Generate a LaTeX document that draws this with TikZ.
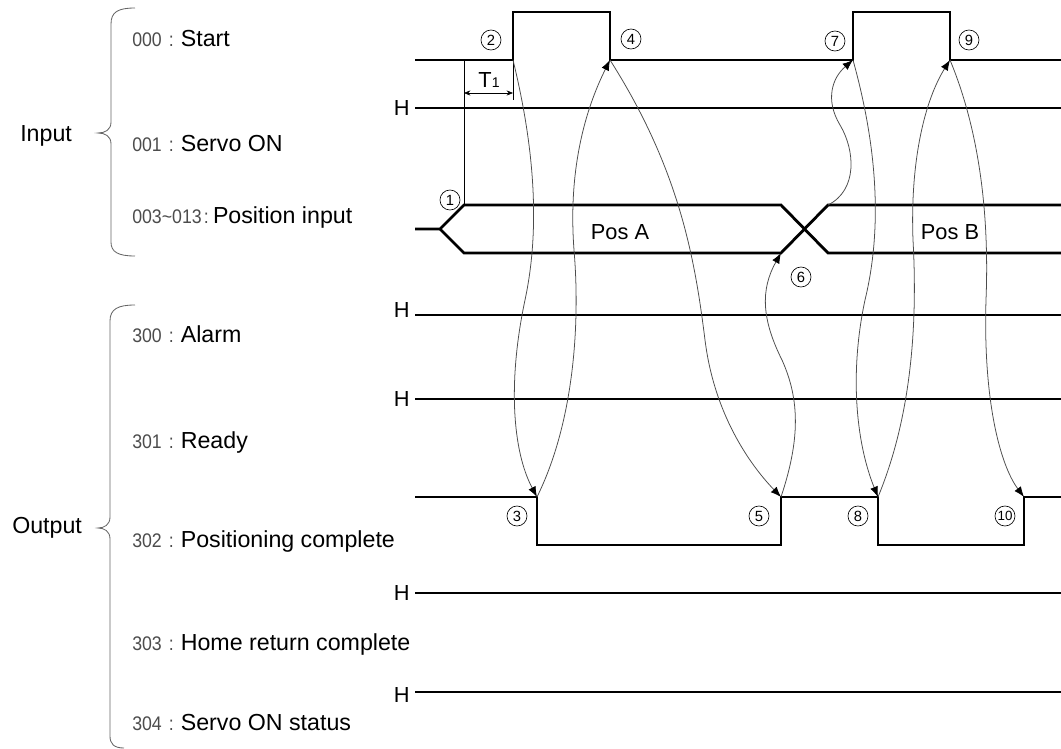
\documentclass[tikz,border=0pt]{standalone}
\usepackage{fontspec}
\setmainfont{Liberation Sans}
\newfontfamily\codefont[FakeStretch=0.9]{Liberation Sans}
\usetikzlibrary{arrows.meta}
\newcommand{\codetxt}[1]{{\color{black!70}\codefont\fontsize{14}{14}\selectfont #1\kern5pt:\kern5pt}}
\tikzset{
  sigline/.style={line width=2pt, line join=miter},
  levelline/.style={line width=1.6pt, line join=miter},
  siglabel/.style={anchor=base west, inner sep=0pt, font=\fontsize{16.5}{18}\selectfont},
  hmark/.style={anchor=east, inner sep=0pt, font=\fontsize{15.5}{16}\selectfont},
  stepnum/.style={circle, draw, line width=0.45pt, minimum size=0.5cm, inner sep=0pt, font=\fontsize{10.5}{11}\selectfont},
  flow/.style={draw=black!70, line width=0.55pt, -{Latex[length=2.6mm, width=2mm, color=black]}},
  dimline/.style={line width=0.5pt, {Stealth[length=1.6mm, width=1.3mm]}-{Stealth[length=1.6mm, width=1.3mm]}},
  groupbrace/.style={draw=black!60, line width=0.6pt}
}

\begin{document}
\begin{tikzpicture}[x=0.025cm, y=-0.025cm]
  \useasboundingbox (0,0) rectangle (1061,749);

  % group labels and braces
  \node[siglabel] (input) at (20,142) {Input};
  \node[siglabel] (output) at (12,533) {Output};
  \draw[groupbrace] (135,8) .. controls (118,8) and (111,12) .. (111,24) -- (111,122)
    .. controls (111,130) and (105,133) .. (98,133) .. controls (105,133) and (111,136) .. (111,144)
    -- (111,242) .. controls (111,252) and (118,256) .. (135,256);
  \draw[groupbrace] (135,305) .. controls (118,305) and (110,309) .. (110,321) -- (110,517)
    .. controls (110,525) and (104,528) .. (98,528) .. controls (104,528) and (110,531) .. (110,539)
    -- (110,736) .. controls (110,744) and (114,748) .. (124,748);

  \node[siglabel] (lstart) at (132,47) {\codetxt{000}Start};
  \node[siglabel] (lservo) at (132,152) {\codetxt{001}Servo ON};
  \node[siglabel] (lpos) at (132,223) {{\color{black!70}\codefont\fontsize{14}{14}\selectfont 003\textasciitilde013\kern1.5pt:\kern3pt}Position input};
  \node[siglabel] (lalarm) at (132,342) {\codetxt{300}Alarm};
  \node[siglabel] (lready) at (132,448) {\codetxt{301}Ready};
  \node[siglabel] (lpend) at (132,547) {\codetxt{302}Positioning complete};
  \node[siglabel] (lhome) at (132,650) {\codetxt{303}Home return complete};
  \node[siglabel] (lsvst) at (132,730) {\codetxt{304}Servo ON status};

  % H levels
  \node[hmark] (hservo) at (410,108) {H};
  \node[hmark, anchor=base east] (halarm) at (410,317) {H};
  \node[hmark] (hready) at (410,399) {H};
  \node[hmark] (hhome) at (410,593) {H};
  \node[hmark] (hsvst) at (410,695) {H};
  \draw[levelline] (415,108) -- (1061,108);
  \draw[levelline] (415,315) -- (1061,315);
  \draw[levelline] (415,399) -- (1061,399);
  \draw[levelline] (415,593) -- (1061,593);
  \draw[levelline] (415,692) -- (1061,692);

  % signal edges
  \coordinate (s2) at (513,60);
  \coordinate (s4) at (610,60);
  \coordinate (s7) at (853,60);
  \coordinate (s9) at (950,60);
  \coordinate (p3) at (537,497);
  \coordinate (p5) at (781,497);
  \coordinate (p8) at (878,497);
  \coordinate (p10) at (1024,497);
  \coordinate (x6) at (781,253);
  \coordinate (x6b) at (828,205);

  \draw[sigline] (415,60) -- (s2) -- (513,12) -- (610,12) -- (s4) -- (s7) -- (853,12) -- (950,12) -- (s9) -- (1061,60);
  \draw[sigline] (415,229) -- (440,229) -- (464,205) -- (781,205) -- (828,253) -- (1061,253);
  \draw[sigline] (440,229) -- (464,253) -- (x6) -- (x6b) -- (1061,205);
  \draw[levelline] (415,497) -- (p3) -- (537,545) -- (781,545) -- (p5) -- (p8) -- (878,545) -- (1024,545) -- (p10) -- (1061,497);

  \node[font=\fontsize{15.5}{16}\selectfont] (posa) at (620,232) {Pos A};
  \node[font=\fontsize{15.5}{16}\selectfont] (posb) at (950,232) {Pos B};

  % T1
  \draw[line width=0.5pt] (464,60) -- (464,205);
  \draw[line width=0.5pt] (s2) -- (513,100);
  \draw[dimline] (464,93) -- (513,93);
  \node[anchor=base, inner sep=0pt, font=\fontsize{15.5}{16}\selectfont] (tone) at (489,88) {T{\fontsize{10}{10}\selectfont 1}};

  % step numbers
  \node[stepnum] (n1) at (450,200) {1};
  \node[stepnum] (n2) at (491,40) {2};
  \node[stepnum] (n3) at (517,516) {3};
  \node[stepnum] (n4) at (631,39) {4};
  \node[stepnum] (n5) at (759,516) {5};
  \node[stepnum] (n6) at (801,277) {6};
  \node[stepnum] (n7) at (835,41) {7};
  \node[stepnum] (n8) at (858,516) {8};
  \node[stepnum] (n9) at (969,40) {9};
  \node[stepnum, font=\fontsize{9.5}{10}\selectfont] (n10) at (1005,516) {10};

  % handshakes
  \draw[flow] (s2) .. controls (535,150) and (540,230) .. (525,300) .. controls (508,380) and (512,450) .. (p3);
  \draw[flow] (p3) .. controls (575,420) and (580,320) .. (574,250) .. controls (568,170) and (585,110) .. (s4);
  \draw[flow] (s4) .. controls (680,170) and (695,260) .. (705,340) .. controls (715,420) and (755,470) .. (p5);
  \draw[flow] (p5) .. controls (800,440) and (800,400) .. (782,360) .. controls (762,320) and (760,290) .. (x6);
  \draw[flow] (x6b) .. controls (858,190) and (855,150) .. (840,125) .. controls (825,100) and (832,78) .. (s7);
  \draw[flow] (s7) .. controls (878,150) and (882,230) .. (865,300) .. controls (850,370) and (855,440) .. (p8);
  \draw[flow] (p8) .. controls (910,420) and (918,330) .. (913,240) .. controls (910,160) and (925,100) .. (s9);
  \draw[flow] (s9) .. controls (975,120) and (990,200) .. (986,300) .. controls (983,400) and (1000,465) .. (p10);
\end{tikzpicture}
\end{document}
